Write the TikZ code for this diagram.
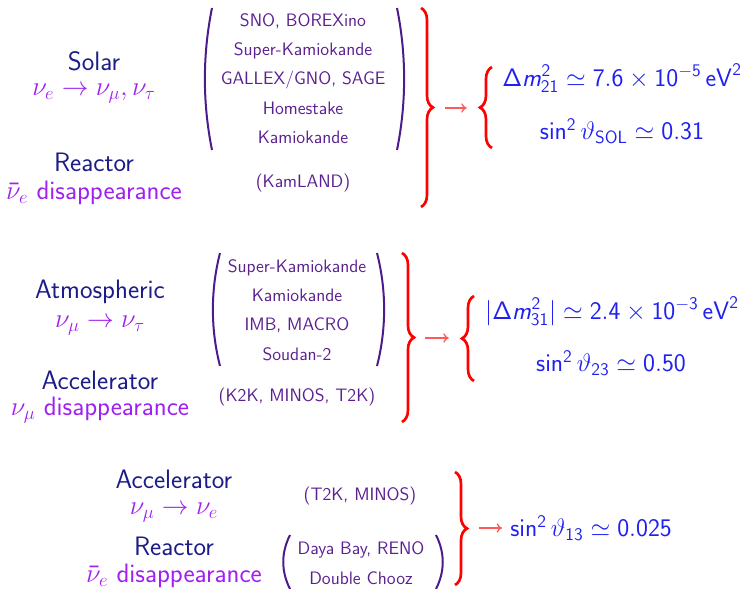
\RequirePackage{fix-cm}
\documentclass[tikz,border=0pt]{standalone}
\usetikzlibrary{decorations.pathreplacing,arrows.meta}
\renewcommand{\familydefault}{\sfdefault}
\DeclareSymbolFont{operators}{OT1}{cmss}{m}{n}
\DeclareMathAlphabet{\mathsfit}{OT1}{cmss}{m}{sl}
\definecolor{Navy}{HTML}{1C1C88}
\definecolor{Violet}{HTML}{A020F0}
\definecolor{Plum}{HTML}{5A2090}
\definecolor{DarkPlum}{HTML}{4B1C8C}
\definecolor{Red}{HTML}{FF0000}
\definecolor{Salmon}{HTML}{FF5A5A}
\definecolor{Blue}{HTML}{2020F0}

\begin{document}
\begin{tikzpicture}[
    x=0.75pt,y=-0.75pt,
    kind/.style={text=Navy, inner sep=0pt, font=\fontsize{20}{24}\selectfont},
    chan/.style={text=Violet, inner sep=0pt, font=\fontsize{20}{24}\selectfont},
    expt/.style={text=Plum, align=center, inner sep=0pt,
      font=\fontsize{13.5}{22}\selectfont},
    res/.style={text=Blue, inner sep=0pt, font=\fontsize{19}{24}\selectfont},
    paren/.style={draw=DarkPlum, line width=1.5pt},
    bigbrace/.style={draw=Red, line width=2pt, decorate,
      decoration={brace, amplitude=9pt}},
    link/.style={-{To[length=4pt,width=7pt]}, draw=Salmon, line width=1pt,
      shorten <=9pt, shorten >=10pt}
  ]
    \useasboundingbox (0,0) rectangle (747,589);

    % solar sector
    \node[kind] (solar) at (94,61) {Solar};
    \node[chan] (solarch) at (94,94) {$\nu_e \to \nu_\mu, \nu_\tau$};
    \node[kind] (reactor) at (94,162) {Reactor};
    \node[chan] (reactorch) at (94,193) {$\bar\nu_e$ disappearance};

    \node[expt] (solexp) at (303,78.5) {
      SNO, BOREXino\\
      Super-Kamiokande\\
      GALLEX/GNO, SAGE\\
      Homestake\\
      Kamiokande
    };
    \node[expt] (kamland) at (303,183) {(KamLAND)};

    \draw[paren] (212,8) .. controls (202.5,55) and (202.5,103) .. (212,150);
    \draw[paren] (397,8) .. controls (406.5,55) and (406.5,103) .. (397,150);

    \draw[bigbrace] (421,8) -- (421,207);
    \draw[bigbrace] (492,148) -- (492,67);
    \coordinate (soltip) at (433,108);
    \coordinate (solin) at (480,108);
    \draw[link] (soltip) -- (solin);

    \node[res] (dm21) at (622,78) {$\Delta \mathsfit{m}^2_{21} \simeq 7.6\times10^{-5}\,\mathrm{eV}^2$};
    \node[res] (th12) at (622,131) {$\sin^2\vartheta_{\mathrm{SOL}} \simeq 0.31$};

    % atmospheric sector
    \node[kind] (atmo) at (100,292) {Atmospheric};
    \node[chan] (atmoch) at (100,326) {$\nu_\mu \to \nu_\tau$};
    \node[kind] (accel) at (100,380) {Accelerator};
    \node[chan] (accelch) at (100,410) {$\nu_\mu$ disappearance};

    \node[expt] (atmexp) at (297,310) {
      Super-Kamiokande\\
      Kamiokande\\
      IMB, MACRO\\
      Soudan-2
    };
    \node[expt] (lbl) at (297,397) {(K2K, MINOS, T2K)};

    \draw[paren] (220,253) .. controls (210.5,290) and (210.5,329) .. (220,366);
    \draw[paren] (377,253) .. controls (386.5,290) and (386.5,329) .. (377,366);

    \draw[bigbrace] (402,253) -- (402,422);
    \draw[bigbrace] (474,381) -- (474,296);
    \coordinate (atmtip) at (413,338);
    \coordinate (atmin) at (462,338);
    \draw[link] (atmtip) -- (atmin);

    \node[res] (dm31) at (612,311) {$|\Delta \mathsfit{m}^2_{31}| \simeq 2.4\times10^{-3}\,\mathrm{eV}^2$};
    \node[res] (th23) at (611,363) {$\sin^2\vartheta_{23} \simeq 0.50$};

    % theta13 sector
    \node[kind] (app) at (174,479) {Accelerator};
    \node[chan] (appch) at (174,513) {$\nu_\mu \to \nu_e$};
    \node[kind] (reac13) at (174,546) {Reactor};
    \node[chan] (reac13ch) at (174,576) {$\bar\nu_e$ disappearance};

    \node[expt] (t2k) at (360,496) {(T2K, MINOS)};
    \node[expt] (sbl) at (361,563) {
      Daya Bay, RENO\\
      Double Chooz
    };

    \draw[paren] (290,535) .. controls (281,553) and (281,571) .. (290,589);
    \draw[paren] (436,535) .. controls (445,553) and (445,571) .. (436,589);

    \draw[bigbrace] (455,472) -- (455,585);
    \coordinate (t13tip) at (467,528);

    \node[res, anchor=west] (th13) at (510,528) {$\sin^2\vartheta_{13} \simeq 0.025$};
    \draw[link, shorten >=6pt] (t13tip) -- (th13.west);
  \end{tikzpicture}
\end{document}
